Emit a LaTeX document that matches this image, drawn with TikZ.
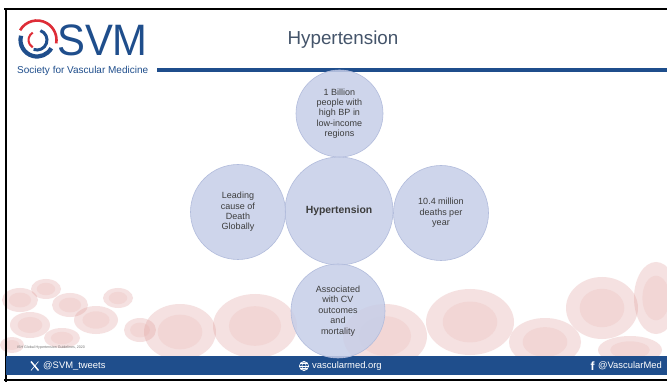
\documentclass[tikz,border=0pt]{standalone}
\usepackage{fontspec}
\setmainfont{Liberation Sans}
\definecolor{svmblue}{RGB}{31,78,140}
\definecolor{svmred}{RGB}{222,45,55}
\definecolor{titlegray}{RGB}{68,84,106}
\definecolor{bubblefill}{RGB}{198,206,232}
\definecolor{bubbleedge}{RGB}{178,188,220}
\definecolor{bubbletext}{RGB}{60,60,60}
\definecolor{cellrim}{RGB}{222,150,148}
\definecolor{cellcore}{RGB}{240,205,203}
\begin{document}
\begin{tikzpicture}[x=1pt,y=-1pt,
  bubble/.style={circle, draw=bubbleedge, line width=0.6pt, fill=bubblefill,
    fill opacity=0.85, text opacity=1, text=bubbletext, align=center,
    inner sep=0pt, font=\fontsize{9}{10.4}\selectfont},
  footertext/.style={text=white, font=\fontsize{9.4}{10}\selectfont, inner sep=0pt},
  cellout/.style={fill=cellrim, fill opacity=0.28, draw=none},
  cellin/.style={fill=cellcore, fill opacity=0.5, draw=none}]
\useasboundingbox (0,0) rectangle (667,382);
\fill[white] (0,0) rectangle (667,382);

% blood cells in the lower background
\foreach \cx/\cy/\rx/\ry in {
   20/300/18/12, 46/289/15/10, 30/325/20/13, 70/305/18/12, 96/320/22/14,
   62/338/18/10, 118/298/15/10, 12/345/12/8, 140/330/16/12,
   180/332/36/28, 255/326/42/32, 385/336/42/32, 470/322/44/33,
   545/342/36/24, 602/308/36/31, 656/298/22/36, 630/350/32/14}{
  \fill[cellout] (\cx,\cy) ellipse [x radius=\rx pt, y radius=\ry pt];
  \fill[cellin] (\cx,\cy) ellipse [x radius=0.62*\rx pt, y radius=0.62*\ry pt];
}

% frame
\draw[black, line width=2pt] (4,9) -- (667,9);
\draw[black, line width=2pt] (5.5,9) -- (5.5,382);
\draw[black, line width=2pt] (4,380) -- (667,380);

% logo swirl
\begin{scope}[shift={(37,40)}, x=1pt, y=1pt]
  \draw[svmblue, line width=4.2pt] (165:16.5) arc[start angle=165, end angle=330, radius=16.5];
  \draw[svmred, line width=2.6pt] (150:19.5) arc[start angle=150, end angle=-10, radius=19.5];
  \draw[svmblue, line width=3pt] (70:10) arc[start angle=70, end angle=-110, radius=10];
  \draw[svmred, line width=2pt] (120:8.5) arc[start angle=120, end angle=240, radius=8.5];
\end{scope}
\node[anchor=west, text=svmblue, inner sep=0pt, xscale=0.95, text depth=0pt,
  font=\fontsize{44}{44}\selectfont] (svm) at (57,40) {SVM};
\node[anchor=west, text=svmblue, inner sep=0pt,
  font=\fontsize{10}{10}\selectfont] (society) at (17,71) {Society for Vascular Medicine};
\draw[svmblue, line width=3.4pt] (157,70) -- (667,70);

% slide title
\node[text=titlegray, font=\fontsize{18.8}{20}\selectfont, inner sep=0pt] (title) at (343,40) {Hypertension};

% footer bar
\fill[svmblue] (5.5,356) rectangle (667,375);

% source note
\node[anchor=west, text=black!55, inner sep=0pt, font=\fontsize{3.6}{4}\selectfont] (source) at (17,348)
  {ISH Global Hypertension Guidelines, 2020};

% radial bubbles
\node[bubble, minimum size=108pt, font=\fontsize{10.4}{12}\selectfont\bfseries] (hyp) at (339,211) {Hypertension};
\node[bubble, minimum size=87pt] (top) at (339.5,113.5) {1 Billion\\people with\\high BP in\\low-income\\regions};
\node[bubble, minimum size=95pt] (left) at (238,212) {Leading\\cause of\\Death\\Globally};
\node[bubble, minimum size=95pt] (right) at (441,213) {10.4 million\\deaths per\\year};
\node[bubble, minimum size=94pt] (bottom) at (338,311) {Associated\\with CV\\outcomes\\and\\mortality};

% footer: X handle
\begin{scope}[white]
  \draw[line width=1.5pt] (31,361.5) -- (38.5,370.5);
  \draw[line width=0.6pt] (38.5,361.5) -- (31,370.5);
\end{scope}
\node[footertext, anchor=west] (tw) at (43,366) {@SVM\_tweets};

% footer: web address with globe
\begin{scope}[white, line width=0.6pt]
  \draw (304,366) circle (4.6pt);
  \draw (304,366) ellipse [x radius=2pt, y radius=4.6pt];
  \draw (299.4,366) -- (308.6,366);
  \draw (300.2,363.5) -- (307.8,363.5);
  \draw (300.2,368.5) -- (307.8,368.5);
\end{scope}
\node[footertext, anchor=west] (web) at (312,366) {vascularmed.org};

% footer: facebook handle
\node[footertext, anchor=east] (fbtext) at (662,366) {@VascularMed};
\node[footertext, font=\fontsize{12}{12}\selectfont\bfseries, anchor=east] (fb) at ([xshift=-3pt]fbtext.west) {f};
\end{tikzpicture}
\end{document}
